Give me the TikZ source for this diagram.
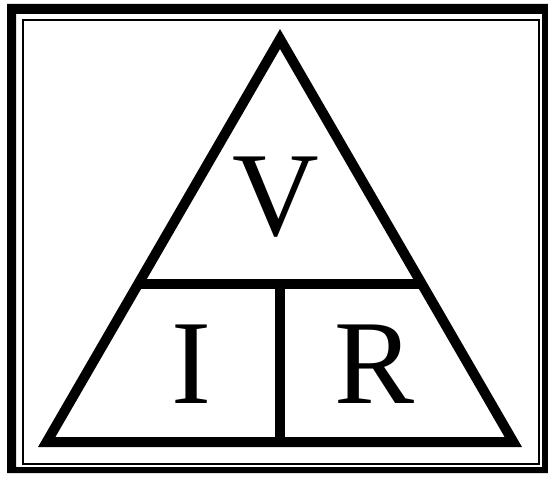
\documentclass[tikz,border=0pt]{standalone}
\usepackage{fontspec}
\setmainfont{Liberation Serif}
\usepackage{tikz}
\usetikzlibrary{calc,positioning}
\tikzstyle{triline} = [draw=black, line width=10pt, miter limit=10]
\tikzstyle{thinframe} = [draw=black, line width=2pt]
\tikzstyle{letter} = [inner sep=0pt, anchor=base, font=\fontsize{120}{120}\selectfont]

\begin{document}
\begin{tikzpicture}[x=1pt,y=-1pt]
\useasboundingbox (0,0) rectangle (548,478);
% double frame
\fill[black,even odd rule] (7,4) rectangle (548,473) (16,14) rectangle (542,467);
\draw[thinframe] (23,20) rectangle (539,464);
% triangle
\coordinate (apex) at (280,39);
\coordinate (bl) at (46.7,442);
\coordinate (br) at (513.3,442);
\coordinate (ml) at ($(apex)!0.608!(bl)$);
\coordinate (mr) at ($(apex)!0.608!(br)$);
\coordinate (mt) at ($(ml)!0.5!(mr)$);
\coordinate (mb) at ($(bl)!0.5!(br)$);
\draw[triline] (apex) -- (bl) -- (br) -- cycle;
\draw[triline] (ml) -- (mr);
\draw[triline] (mt) -- (mb);
% letters
\node[letter] (v) at (276,236) {V};
\node[letter] (i) at (191,403) {I};
\node[letter] (r) at (375,403) {R};
\end{tikzpicture}
\end{document}
